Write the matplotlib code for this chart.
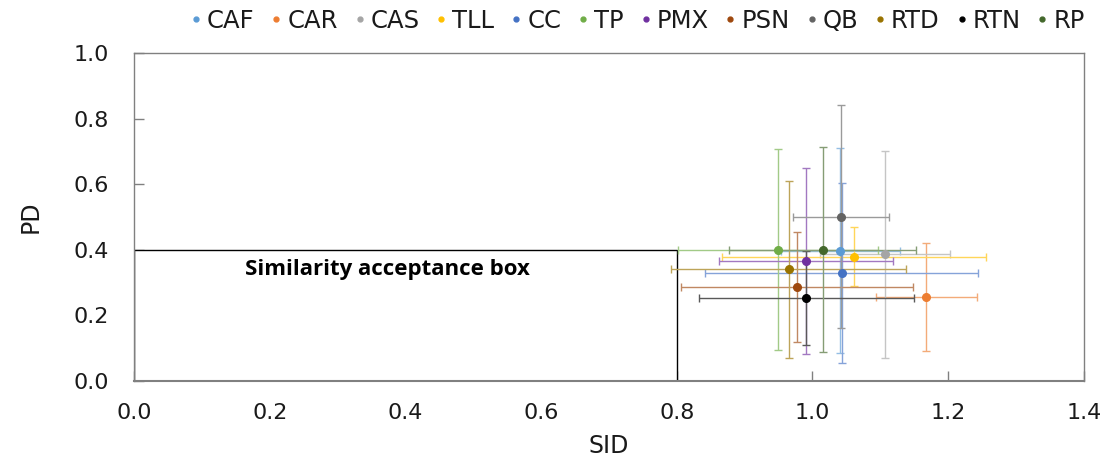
import matplotlib
matplotlib.use("Agg")
import matplotlib.pyplot as plt
from matplotlib.patches import Rectangle
from matplotlib.lines import Line2D
from matplotlib.colors import to_rgb

plt.rcParams['font.family'] = ['DejaVu Sans']

# Products compared against the reference
names = ["CAF", "CAR", "CAS", "TLL", "CC", "TP", "PMX", "PSN", "QB", "RTD", "RTN", "RP"]
colors = ["#5B9BD5", "#ED7D31", "#A5A5A5", "#FFC000", "#4472C4", "#70AD47",
          "#7030A0", "#9E480E", "#636363", "#997300", "#000000", "#43682B"]

# Mean SID / PD with their spread
sid = [1.041, 1.168, 1.107, 1.061, 1.043, 0.949, 0.990, 0.977, 1.042, 0.965, 0.991, 1.015]
sid_err = [0.088, 0.075, 0.096, 0.195, 0.201, 0.147, 0.128, 0.171, 0.071, 0.173, 0.158, 0.138]
pd_ = [0.397, 0.255, 0.386, 0.378, 0.330, 0.400, 0.365, 0.285, 0.501, 0.340, 0.253, 0.400]
pd_err = [0.312, 0.166, 0.316, 0.090, 0.275, 0.308, 0.283, 0.168, 0.342, 0.270, 0.143, 0.312]

# Acceptance limits
sid_limit = 0.8
pd_limit = 0.4

fig = plt.figure(figsize=(11.06, 4.59), dpi=100)
ax = fig.add_axes([0.1212, 0.171, 0.8588, 0.713])

ax.set_axisbelow(True)
ax.add_patch(Rectangle((0, 0), sid_limit, pd_limit, facecolor="white",
                       edgecolor="black", linewidth=1.0, zorder=1))
ax.text(0.373, 0.338, "Similarity acceptance box", fontsize=16, fontweight="bold",
        family=["Open Sans", "DejaVu Sans"], ha="center", va="center", zorder=2)


def lighten(c, f=0.35):
    r, g, b = to_rgb(c)
    return (r + (1 - r) * f, g + (1 - g) * f, b + (1 - b) * f)


for n, c, x, xe, y, ye in zip(names, colors, sid, sid_err, pd_, pd_err):
    ax.errorbar(x, y, xerr=xe, yerr=ye, fmt="none", ecolor=lighten(c),
                elinewidth=1.0, capsize=3, capthick=1.0, zorder=3)
for n, c, x, y in zip(names, colors, sid, pd_):
    ax.plot(x, y, "o", color=c, markersize=5.5, zorder=4)

ax.set_xlim(0, 1.4)
ax.set_ylim(0, 1.0)
ax.set_xticks([0.0, 0.2, 0.4, 0.6, 0.8, 1.0, 1.2, 1.4])
ax.set_yticks([0.0, 0.2, 0.4, 0.6, 0.8, 1.0])
ax.xaxis.set_major_formatter(plt.FormatStrFormatter("%.1f"))
ax.yaxis.set_major_formatter(plt.FormatStrFormatter("%.1f"))
ax.tick_params(direction="in", length=7, width=1, color="#808080", labelsize=16,
               labelcolor="#1a1a1a")
ax.tick_params(axis="y", pad=18)
ax.tick_params(axis="x", pad=16)
for s in ax.spines.values():
    s.set_color("#808080")
    s.set_linewidth(1.0)
ax.spines["bottom"].set_linewidth(1.5)

ax.set_xlabel("SID", fontsize=17, labelpad=8, color="#1a1a1a")
ax.set_ylabel("PD", fontsize=17, labelpad=22, color="#1a1a1a")

handles = [Line2D([], [], marker="o", linestyle="none", color=c, markersize=3.5)
           for c in colors]
fig.legend(handles, names, loc="center", bbox_to_anchor=(0.574, 0.955), ncol=12,
           frameon=False, fontsize=17.5, handletextpad=0.0, columnspacing=0.45,
           handlelength=0.9, borderaxespad=0, labelcolor="#1a1a1a")

fig.savefig("out.png", dpi=100)
